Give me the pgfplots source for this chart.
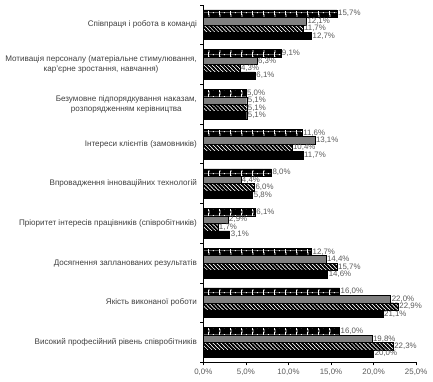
\documentclass[border=0pt]{standalone}
\usepackage{fontspec}
\setmainfont{Liberation Sans}
\usepackage{pgfplots}
\pgfplotsset{compat=1.18}
\usetikzlibrary{patterns}
\pgfdeclarepatternformonly{brackets}{\pgfpointorigin}{\pgfqpoint{11bp}{7.5bp}}{\pgfqpoint{11bp}{7.5bp}}{%
  \pgfsetlinewidth{0.8bp}%
  \pgfpathmoveto{\pgfqpoint{2.9bp}{1bp}}\pgfpathlineto{\pgfqpoint{1.5bp}{1bp}}%
  \pgfpathlineto{\pgfqpoint{1.5bp}{6.5bp}}\pgfpathlineto{\pgfqpoint{2.9bp}{6.5bp}}%
  \pgfusepath{stroke}%
  \pgfpathrectangle{\pgfqpoint{6bp}{3.2bp}}{\pgfqpoint{1.1bp}{1.1bp}}\pgfusepath{fill}%
  \pgfpathmoveto{\pgfqpoint{0bp}{3.75bp}}\pgfpathlineto{\pgfqpoint{11bp}{3.75bp}}%
  \pgfsetlinewidth{0.25bp}\pgfusepath{stroke}%
}
\pgfdeclarepatternformonly{thicknw}{\pgfqpoint{-1bp}{-1bp}}{\pgfqpoint{5bp}{5bp}}{\pgfqpoint{4bp}{4bp}}{%
  \pgfsetlinewidth{1.8bp}%
  \pgfpathmoveto{\pgfqpoint{-1bp}{5bp}}\pgfpathlineto{\pgfqpoint{5bp}{-1bp}}%
  \pgfusepath{stroke}%
}
\definecolor{lblgray}{HTML}{404040}
\definecolor{valgray}{HTML}{595959}
\definecolor{bargray}{HTML}{808080}
\begin{document}
\begin{tikzpicture}
\begin{axis}[
  xbar=0pt, bar width=7.5bp,
  scale only axis, width=215bp, height=361bp,
  xmin=0, xmax=25, ymin=-0.5, ymax=8.5,
  axis lines*=left,
  axis line style={black, line width=0.6pt},
  tick align=outside,
  major tick length=3bp,
  tick style={black, line width=0.6pt},
  xtick={0,5,...,25},
  xticklabel={\pgfmathprintnumber[fixed,fixed zerofill,precision=1,use comma]{\tick}\%},
  xticklabel style={font=\fontsize{8}{9}\selectfont, text=valgray},
  /pgf/number format/assume math mode=true,
  ytick={0,...,8},
  ytick style={draw=none},
  yticklabels={
    Високий професійний рівень співробітників,
    Якість виконаної роботи,
    Досягнення запланованих результатів,
    Пріоритет інтересів працівників (співробітників),
    Впровадження інноваційних технологій,
    Інтереси клієнтів (замовників),
    {Безумовне підпорядкування наказам,\\ розпорядженням керівництва},
    {Мотивація персоналу (матеріальне стимулювання,\\ кар’єрне зростання, навчання)},
    Співпраця і робота в команді},
  yticklabel style={font=\fontsize{8.2}{10}\selectfont, text=lblgray, align=center},
  extra y ticks={-0.5,0.5,...,8.5},
  extra y tick labels={},
  extra y tick style={ytick style={draw=black}},
  point meta=x,
  nodes near coords={\pgfmathprintnumber[fixed,fixed zerofill,precision=1,use comma]{\pgfplotspointmeta}\%},
  every node near coord/.append style={font=\fontsize{8}{9}\selectfont, text=valgray, inner sep=1pt},
  clip=false,
]
\addplot[draw=black, fill=black] coordinates {(20.0,0) (21.1,1) (14.6,2) (3.1,3) (5.8,4) (11.7,5) (5.1,6) (6.1,7) (12.7,8)};
\addplot[draw=black, fill=white, postaction={pattern=thicknw, pattern color=black}] coordinates {(22.3,0) (22.9,1) (15.7,2) (1.7,3) (6.0,4) (10.4,5) (5.1,6) (4.3,7) (11.7,8)};
\addplot[draw=black, fill=bargray] coordinates {(19.8,0) (22.0,1) (14.4,2) (2.9,3) (4.4,4) (13.1,5) (5.1,6) (6.3,7) (12.1,8)};
\addplot[draw=black, fill=black, postaction={pattern=brackets, pattern color=white}] coordinates {(16.0,0) (16.0,1) (12.7,2) (6.1,3) (8.0,4) (11.6,5) (5.0,6) (9.1,7) (15.7,8)};
\end{axis}
\path ([xshift=17bp,yshift=5bp]current axis.north east);
\path ([xshift=-2bp]current axis.outer west);
\path ([yshift=-3bp]current axis.outer south);
\end{tikzpicture}
\end{document}
